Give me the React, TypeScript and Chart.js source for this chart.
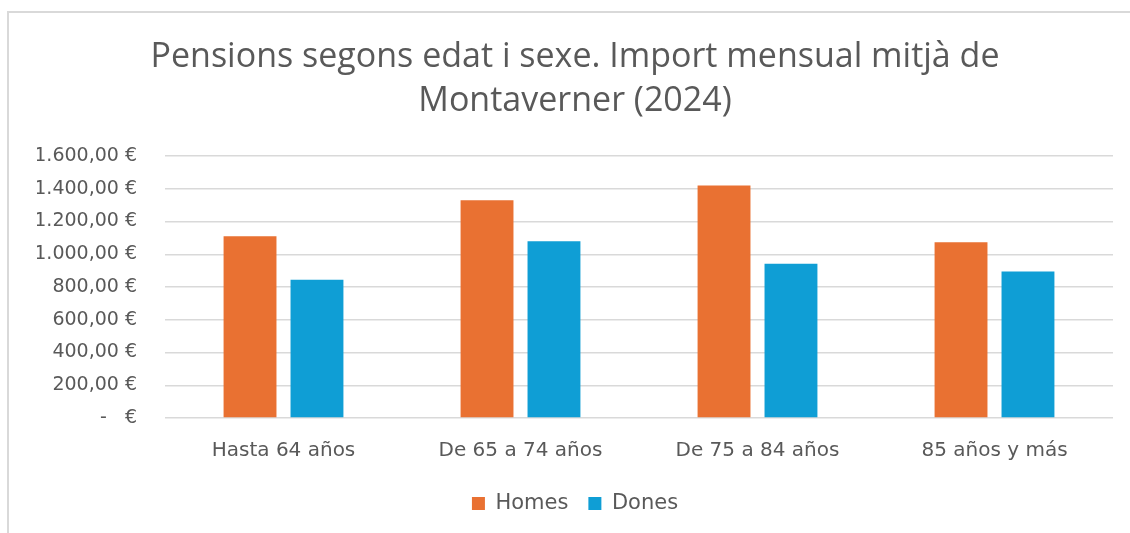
import React, { useEffect, useRef } from 'react';
import { Chart, registerables } from 'chart.js';

Chart.register(...registerables);

const categories = ['Hasta 64 años', 'De 65 a 74 años', 'De 75 a 84 años', '85 años y más'];
const homesValues = [1110, 1330, 1420, 1073];
const donesValues = [845, 1079, 942, 895];
const seriesNames = ['Homes', 'Dones'];
const titleLines = ['Pensions segons edat i sexe. Import mensual mitjà de', 'Montaverner (2024)'];
const yMin = 0;
const yMax = 1600;
const yStep = 200;

const ORANGE = '#E97132';
const BLUE = '#0F9ED5';
const TEXT = '#595959';
const GRID = '#d9d9d9';
const TITLE_FONT = "'Open Sans', sans-serif";
const FONT = "'DejaVu Sans', sans-serif";

function formatEuro(v: number): string {
  if (v === 0) return '-   €';
  const s = Math.round(v).toString().replace(/\B(?=(\d{3})+(?!\d))/g, '.');
  return s + ',00 €';
}

export default function App() {
  const canvasRef = useRef<HTMLCanvasElement | null>(null);

  useEffect(() => {
    const canvas = canvasRef.current;
    if (!canvas) return;
    const chart = new Chart(canvas, {
      type: 'bar',
      data: {
        labels: categories,
        datasets: [
          {
            label: seriesNames[0],
            data: homesValues,
            backgroundColor: ORANGE,
            categoryPercentage: 0.565,
            barPercentage: 0.79,
          },
          {
            label: seriesNames[1],
            data: donesValues,
            backgroundColor: BLUE,
            categoryPercentage: 0.565,
            barPercentage: 0.79,
          },
        ],
      },
      options: {
        responsive: false,
        animation: false,
        devicePixelRatio: 1,
        layout: { padding: { left: 37, right: 17, top: 0, bottom: 9 } },
        plugins: {
          title: {
            display: true,
            text: titleLines,
            color: TEXT,
            font: { family: TITLE_FONT, size: 34, weight: 'normal', lineHeight: 44 / 34 },
            padding: { top: 35, bottom: 33 },
          },
          legend: {
            display: true,
            position: 'bottom',
            labels: {
              color: TEXT,
              boxWidth: 13,
              boxHeight: 13,
              padding: 20,
              font: { family: FONT, size: 21 },
            },
          },
          tooltip: { enabled: false },
        },
        scales: {
          x: {
            grid: { display: false, drawTicks: false },
            border: { display: false },
            ticks: {
              color: TEXT,
              padding: 21,
              font: { family: FONT, size: 20 },
              maxRotation: 0,
            },
            afterFit: (scale: any) => {
              scale.height = 55;
            },
          },
          y: {
            min: yMin,
            max: yMax,
            grid: { color: GRID, lineWidth: 1.5, drawTicks: false },
            border: { display: false },
            ticks: {
              stepSize: yStep,
              color: TEXT,
              padding: 28,
              font: { family: FONT, size: 19 },
              callback: (v: any) => formatEuro(Number(v)),
            },
            afterFit: (scale: any) => {
              scale.width = 128;
            },
          },
        },
      },
    });
    return () => chart.destroy();
  }, []);

  return (
    <div style={{ position: 'absolute', left: 0, top: 0, width: 1130, height: 533, overflow: 'hidden', background: '#fff' }}>
      <div
        style={{
          position: 'absolute',
          left: 7,
          top: 11,
          width: 1200,
          height: 600,
          borderTop: `2px solid ${GRID}`,
          borderLeft: `2px solid ${GRID}`,
        }}
      />
      <canvas
        ref={canvasRef}
        width={1130}
        height={533}
        style={{ position: 'absolute', left: 0, top: 0, width: 1130, height: 533 }}
      />
    </div>
  );
}
